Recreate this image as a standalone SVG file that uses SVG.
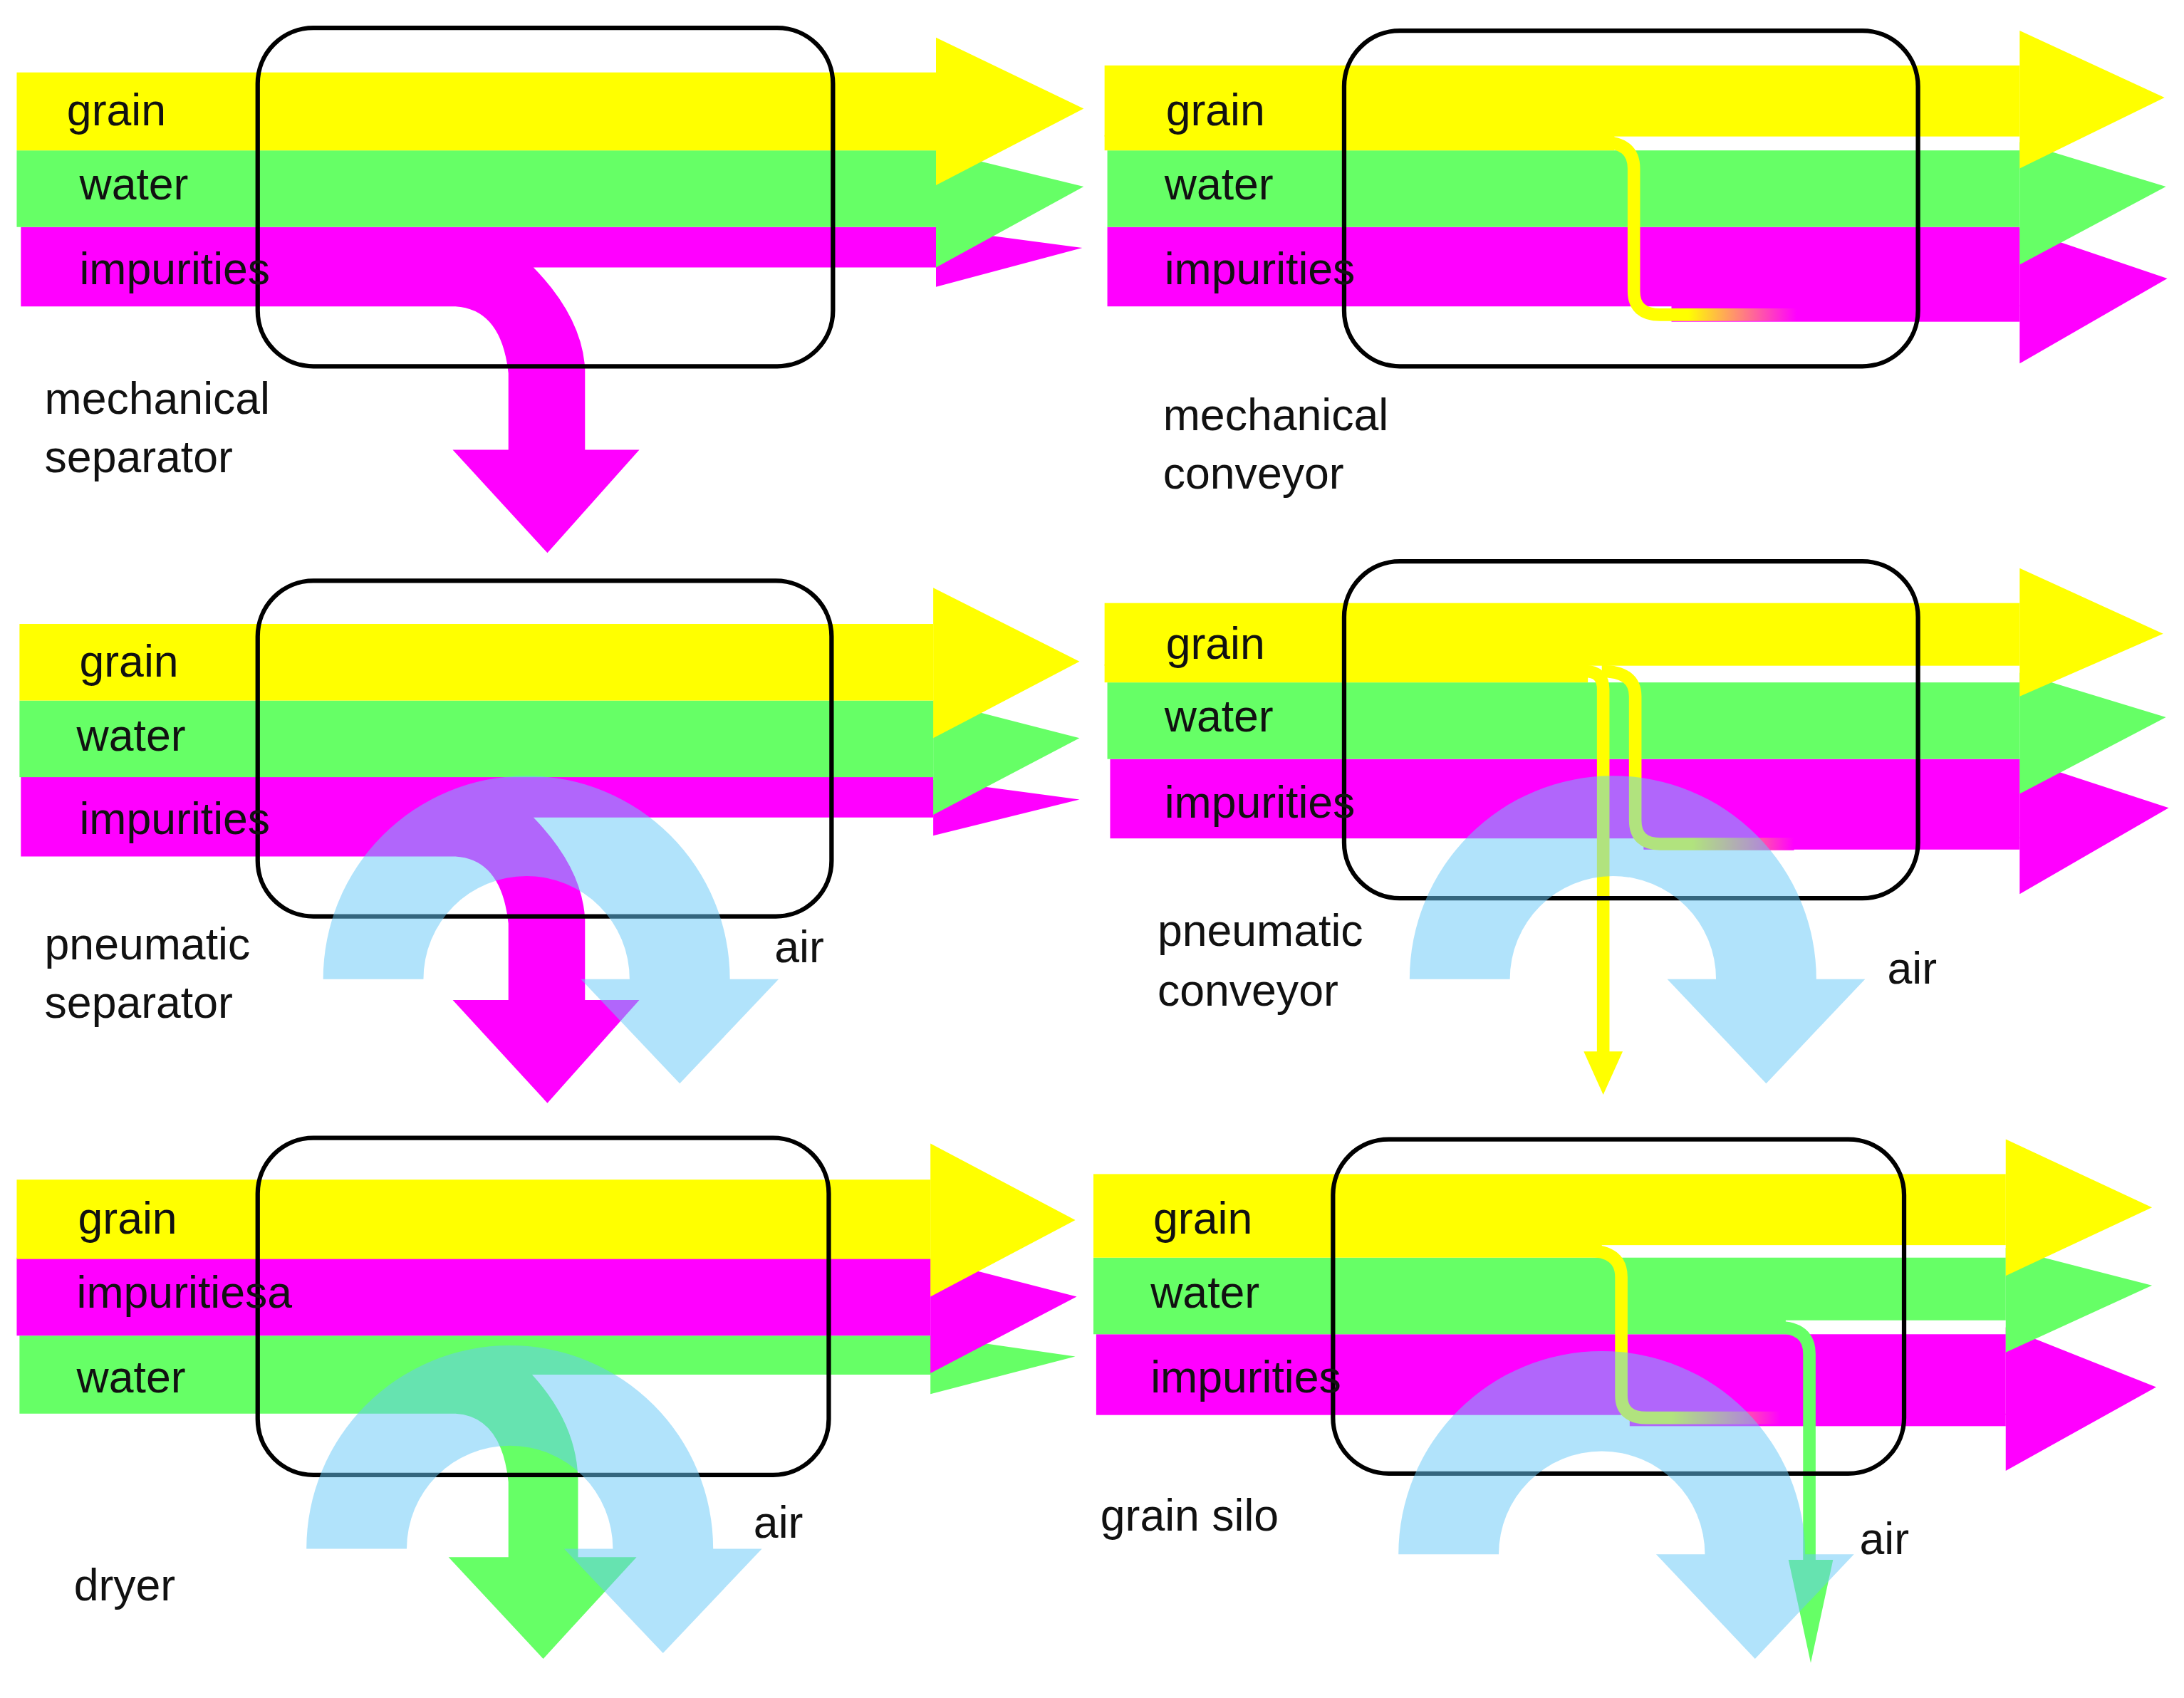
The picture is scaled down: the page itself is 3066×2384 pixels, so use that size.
<svg xmlns="http://www.w3.org/2000/svg" width="3066" height="2384" viewBox="0 0 3066 2384">
<style>
.y{fill:#ffff00}.g{fill:#66ff66}.m{fill:#ff00ff}
.box{fill:none;stroke:#000;stroke-width:3.2}
.air{fill:rgb(102,200,247);fill-opacity:.51}
.t{font-family:"Liberation Sans",Arial,sans-serif;font-size:32px;fill:#111}
.ln{fill:none;stroke-width:9;stroke-linejoin:round}
</style>
<defs>
<linearGradient id="f2" gradientUnits="userSpaceOnUse" x1="1212" y1="0" x2="1290" y2="0"><stop offset="0" stop-color="#ffff00"/><stop offset="1" stop-color="#ff00ff"/></linearGradient>
<linearGradient id="f4" gradientUnits="userSpaceOnUse" x1="1215" y1="0" x2="1288" y2="0"><stop offset="0" stop-color="#ffff00"/><stop offset="1" stop-color="#ff00ff"/></linearGradient>
<linearGradient id="f6" gradientUnits="userSpaceOnUse" x1="1200" y1="0" x2="1278" y2="0"><stop offset="0" stop-color="#ffff00"/><stop offset="1" stop-color="#ff00ff"/></linearGradient>
</defs>
<rect width="3066" height="2384" fill="#fff"/>
<g transform="scale(1.9554)">
<g id="mechanical-separator">
<path class="m" d="M15,163 L672,163 L672,192 L383,192 Q418,228 420,265 L420,323 L459,323 L393,397 L325,323 L365,323 L365,268 Q360,222 327,220 L15,220 Z"/>
<polygon class="m" points="672,164 777,178 672,206"/>
<rect class="g" x="12" y="108" width="660" height="55"/>
<polygon class="g" points="672,108 778,134 672,192"/>
<rect class="y" x="12" y="52" width="660" height="56"/>
<polygon class="y" points="672,27 778,78 672,133"/>
<rect class="box" x="185" y="20" width="413" height="243" rx="40"/>
<text class="t" x="48" y="90">grain</text>
<text class="t" x="57" y="143">water</text>
<text class="t" x="57" y="204">impurities</text>
<text class="t" x="32" y="297">mechanical</text>
<text class="t" x="32" y="339">separator</text>
</g>
<g id="mechanical-conveyor">
<rect class="m" x="795" y="163" width="655" height="57"/>
<rect class="m" x="1200" y="219" width="250" height="12"/>
<polygon class="m" points="1450,164 1556,200 1450,261"/>
<rect class="g" x="795" y="108" width="655" height="55"/>
<polygon class="g" points="1450,102 1555,134 1450,190"/>
<rect class="y" x="793" y="47" width="657" height="51"/>
<rect class="y" x="793" y="97" width="366" height="11"/>
<polygon class="y" points="1450,22 1554,70 1450,121"/>
<path class="ln" stroke="url(#f2)" d="M1150,102 Q1173,102 1173,121 L1173,209 Q1173,226 1192,226 L1290,226"/>
<rect class="box" x="965" y="22" width="412" height="241" rx="40"/>
<text class="t" x="837" y="90">grain</text>
<text class="t" x="836" y="143">water</text>
<text class="t" x="836" y="204">impurities</text>
<text class="t" x="835" y="309">mechanical</text>
<text class="t" x="835" y="351">conveyor</text>
</g>
<g id="pneumatic-separator">
<path class="m" transform="translate(0,395)" d="M15,163 L670,163 L670,192 L383,192 Q418,228 420,265 L420,323 L459,323 L393,397 L325,323 L365,323 L365,268 Q360,222 327,220 L15,220 Z"/>
<polygon class="m" points="670,560 775,574 670,600"/>
<rect class="g" x="14" y="503" width="656" height="55"/>
<polygon class="g" points="670,503 775,530 670,585"/>
<rect class="y" x="14" y="448" width="656" height="55"/>
<polygon class="y" points="670,422 775,475 670,530"/>
<rect class="box" x="185" y="417" width="412" height="241" rx="40"/>
<path class="air" d="M232,703 A146,146 0 0 1 524,703 L559,703 L488,778 L417,703 L452,703 A74,74 0 0 0 304,703 Z"/>
<text class="t" x="57" y="486">grain</text>
<text class="t" x="55" y="539">water</text>
<text class="t" x="57" y="599">impurities</text>
<text class="t" x="32" y="689">pneumatic</text>
<text class="t" x="32" y="731">separator</text>
<text class="t" x="556" y="691">air</text>
</g>
<g id="pneumatic-conveyor">
<rect class="m" x="797" y="545" width="653" height="57"/>
<rect class="m" x="1180" y="601" width="270" height="9"/>
<polygon class="m" points="1450,545 1557,580 1450,642"/>
<rect class="g" x="795" y="490" width="655" height="55"/>
<polygon class="g" points="1450,483 1555,515 1450,570"/>
<rect class="y" x="793" y="433" width="657" height="45"/>
<rect class="y" x="793" y="477" width="347" height="13"/>
<polygon class="y" points="1450,408 1553,455 1450,500"/>
<path class="ln" stroke="#ffff00" d="M1138,482 Q1151,482 1151,495 L1151,757"/>
<polygon class="y" points="1137,755 1151,786 1165,755"/>
<path class="ln" stroke="url(#f4)" d="M1150,482 Q1174,482 1174,500 L1174,589 Q1174,606 1192,606 L1288,606"/>
<rect class="box" x="965" y="403" width="412" height="242" rx="40"/>
<path class="air" d="M1012,703 A146,146 0 0 1 1304,703 L1339,703 L1268,778 L1197,703 L1232,703 A74,74 0 0 0 1084,703 Z"/>
<text class="t" x="837" y="473">grain</text>
<text class="t" x="836" y="525">water</text>
<text class="t" x="836" y="587">impurities</text>
<text class="t" x="831" y="679">pneumatic</text>
<text class="t" x="831" y="722">conveyor</text>
<text class="t" x="1355" y="706">air</text>
</g>
<g id="dryer">
<path class="g" d="M14,959 L670,959 L670,987 L382,987 Q414,1022 415,1062 L415,1118 L457,1118 L390,1191 L322,1118 L365,1118 L365,1064 Q360,1017 327,1015 L14,1015 Z"/>
<polygon class="g" points="668,959 772,974 668,1001"/>
<rect class="m" x="12" y="903" width="656" height="56"/>
<polygon class="m" points="668,904 773,931 668,986"/>
<rect class="y" x="12" y="847" width="656" height="57"/>
<polygon class="y" points="668,821 772,876 668,931"/>
<rect class="box" x="185" y="817" width="410" height="242" rx="40"/>
<path class="air" d="M220,1112 A146,146 0 0 1 512,1112 L547,1112 L476,1187 L405,1112 L440,1112 A74,74 0 0 0 292,1112 Z"/>
<text class="t" x="56" y="886">grain</text>
<text class="t" x="55" y="939">impuritiesa</text>
<text class="t" x="55" y="1000">water</text>
<text class="t" x="53" y="1149">dryer</text>
<text class="t" x="541" y="1104">air</text>
</g>
<g id="grain-silo">
<rect class="m" x="787" y="958" width="653" height="58"/>
<rect class="m" x="1170" y="1015" width="270" height="9"/>
<polygon class="m" points="1440,953 1548,996 1440,1056"/>
<rect class="g" x="785" y="903" width="655" height="45"/>
<rect class="g" x="785" y="947" width="497" height="11"/>
<polygon class="g" points="1440,896 1545,923 1440,971"/>
<rect class="y" x="785" y="843" width="655" height="51"/>
<rect class="y" x="785" y="893" width="365" height="10"/>
<polygon class="y" points="1440,818 1545,867 1440,916"/>
<path class="ln" stroke="url(#f6)" d="M1140,898 Q1164,898 1164,917 L1164,1002 Q1164,1018 1182,1018 L1278,1018"/>
<path class="ln" stroke="#66ff66" d="M1276,953 Q1299,953 1299,972 L1299,1122"/>
<polygon class="g" points="1284,1120 1300,1194 1316,1120"/>
<rect class="box" x="957" y="818" width="410" height="240" rx="40"/>
<path class="air" d="M1004,1116 A146,146 0 0 1 1296,1116 L1331,1116 L1260,1191 L1189,1116 L1224,1116 A74,74 0 0 0 1076,1116 Z"/>
<text class="t" x="828" y="886">grain</text>
<text class="t" x="826" y="939">water</text>
<text class="t" x="826" y="1000">impurities</text>
<text class="t" x="790" y="1099">grain silo</text>
<text class="t" x="1335" y="1116">air</text>
</g>
</g>
</svg>
